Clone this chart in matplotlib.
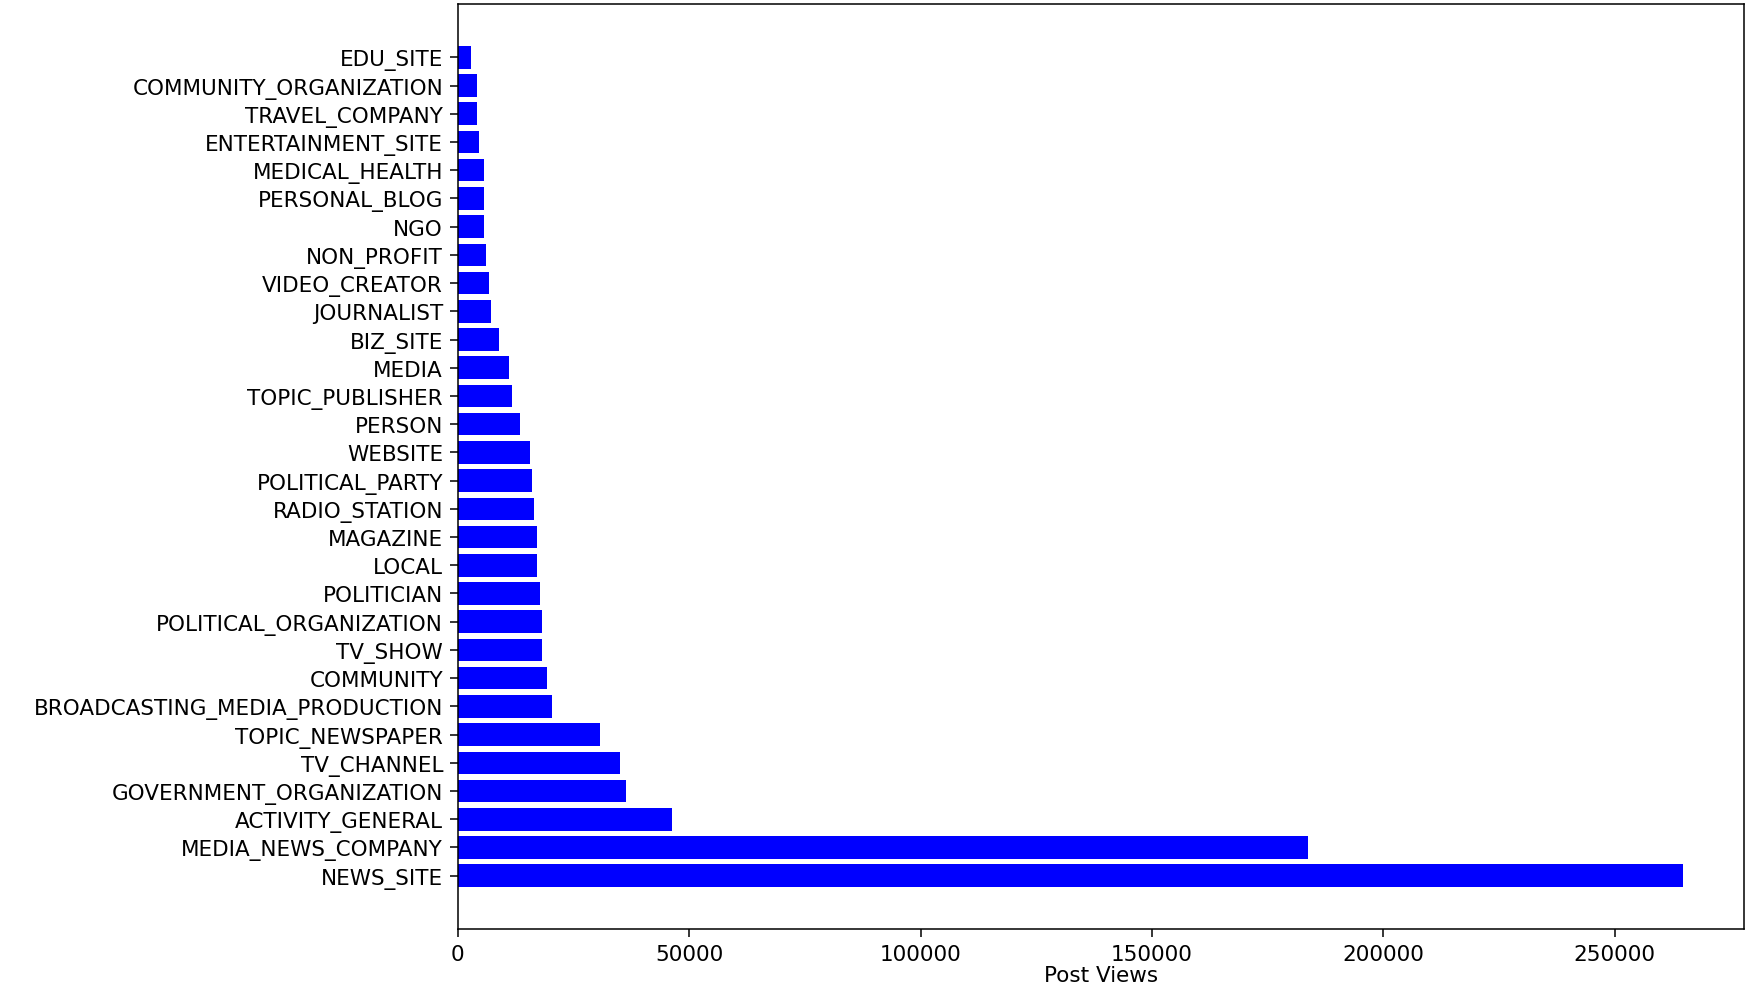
import numpy as np
import matplotlib
matplotlib.use("Agg")
import matplotlib.pyplot as plt


categories = [
    "NEWS_SITE", "MEDIA_NEWS_COMPANY", "ACTIVITY_GENERAL", "GOVERNMENT_ORGANIZATION",
    "TV_CHANNEL", "TOPIC_NEWSPAPER", "BROADCASTING_MEDIA_PRODUCTION", "COMMUNITY",
    "TV_SHOW", "POLITICAL_ORGANIZATION", "POLITICIAN", "LOCAL", "MAGAZINE",
    "RADIO_STATION", "POLITICAL_PARTY", "WEBSITE", "PERSON", "TOPIC_PUBLISHER",
    "MEDIA", "BIZ_SITE", "JOURNALIST", "VIDEO_CREATOR", "NON_PROFIT", "NGO",
    "PERSONAL_BLOG", "MEDICAL_HEALTH", "ENTERTAINMENT_SITE", "TRAVEL_COMPANY",
    "COMMUNITY_ORGANIZATION", "EDU_SITE",
]

post_views = [
    264650, 183750, 46340, 36420,
    35130, 30820, 20400, 19330,
    18250, 18250, 17890, 17170, 17170,
    16450, 16090, 15730, 13580, 11780,
    11060, 8900, 7110, 6750, 6030, 5670,
    5600, 5670, 4600, 4240,
    4240, 2800,
]


def main():
    fig = plt.figure(figsize=(17.5, 9.95), dpi=100)
    ax = fig.add_axes([0.2615, 0.0653, 0.735, 0.9297])

    ax.barh(categories, post_views, color="blue")
    ax.set_xlabel("Post Views", fontsize=15.5, labelpad=1)
    ax.tick_params(axis="both", labelsize=15.5, length=5.5, width=1.1, pad=5)
    for s in ax.spines.values():
        s.set_linewidth(1.1)

    fig.savefig("out.png", dpi=100)


if __name__ == "__main__":
    main()
